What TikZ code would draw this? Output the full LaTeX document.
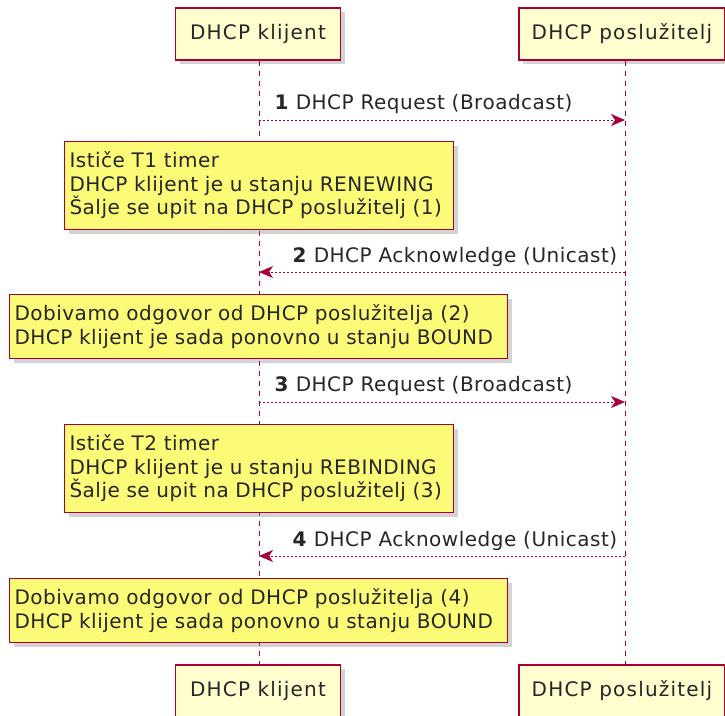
\documentclass[tikz,border=0pt]{standalone}
\usepackage{fontspec}
\setmainfont{DejaVu Sans}[LetterSpace=2.5]
\newfontfamily\actorfont{DejaVu Sans}[LetterSpace=6]
\usetikzlibrary{arrows.meta,shadows}
\definecolor{umlred}{HTML}{A80036}
\definecolor{umlpart}{HTML}{FEFECE}
\definecolor{umlnote}{HTML}{FBFB77}

\begin{document}
\begin{tikzpicture}[x=1pt,y=-1pt,>={Stealth[length=14pt,width=12pt,inset=4pt]},
  every node/.style={font=\fontsize{20}{23.5}\selectfont,text=black!85},
  actor/.style={draw=umlred,line width=1.3pt,fill=umlpart,minimum height=52pt,
    font=\actorfont\fontsize{20}{23.5}\selectfont,
    drop shadow={shadow xshift=4pt,shadow yshift=-4pt,opacity=0.35}},
  notebox/.style={draw=umlred,line width=1pt,fill=umlnote,anchor=north west,align=left,
    inner xsep=5pt,inner ysep=0pt,
    drop shadow={shadow xshift=4pt,shadow yshift=-4pt,opacity=0.35}},
  lifeline/.style={draw=umlred,line width=1pt,dash pattern=on 5pt off 5pt},
  msg/.style={draw=umlred,line width=1pt,dash pattern=on 2pt off 2pt}]
\useasboundingbox (0,0) rectangle (725,715);

% participants
\node[actor,minimum width=165pt] (clientTop) at (258,34) {DHCP klijent};
\node[actor,minimum width=206pt] (serverTop) at (622,34) {DHCP poslužitelj};
\node[actor,minimum width=165pt] (clientBot) at (258,691) {DHCP klijent};
\node[actor,minimum width=206pt] (serverBot) at (622,691) {DHCP poslužitelj};

% lifelines
\draw[lifeline] (clientTop.south -| 259,0) -- (clientBot.north -| 259,0);
\draw[lifeline] (serverTop.south -| 625,0) -- (serverBot.north -| 625,0);

% messages
\coordinate (c1) at (259,120); \coordinate (s1) at (625,120);
\draw[msg,->] (c1) -- (s1);
\node[anchor=base west] (m1) at (271,109) {\textbf{1} DHCP Request (Broadcast)};

\node[notebox,minimum width=389pt,minimum height=88pt,text width=379pt] (n1) at (64,141)
  {Ističe T1 timer\\DHCP klijent je u stanju RENEWING\\Šalje se upit na DHCP poslužitelj (1)};

\coordinate (c2) at (259,272); \coordinate (s2) at (625,272);
\draw[msg,->] (s2) -- (c2);
\node[anchor=base west] (m2) at (289,262) {\textbf{2} DHCP Acknowledge (Unicast)};

\node[notebox,minimum width=498pt,minimum height=64pt,text width=488pt] (n2) at (9,294)
  {Dobivamo odgovor od DHCP poslužitelja (2)\\DHCP klijent je sada ponovno u stanju BOUND};

\coordinate (c3) at (259,402); \coordinate (s3) at (625,402);
\draw[msg,->] (c3) -- (s3);
\node[anchor=base west] (m3) at (271,391) {\textbf{3} DHCP Request (Broadcast)};

\node[notebox,minimum width=389pt,minimum height=88pt,text width=379pt] (n3) at (64,424)
  {Ističe T2 timer\\DHCP klijent je u stanju REBINDING\\Šalje se upit na DHCP poslužitelj (3)};

\coordinate (c4) at (259,556); \coordinate (s4) at (625,556);
\draw[msg,->] (s4) -- (c4);
\node[anchor=base west] (m4) at (289,546) {\textbf{4} DHCP Acknowledge (Unicast)};

\node[notebox,minimum width=498pt,minimum height=64pt,text width=488pt] (n4) at (9,578)
  {Dobivamo odgovor od DHCP poslužitelja (4)\\DHCP klijent je sada ponovno u stanju BOUND};
\end{tikzpicture}
\end{document}
